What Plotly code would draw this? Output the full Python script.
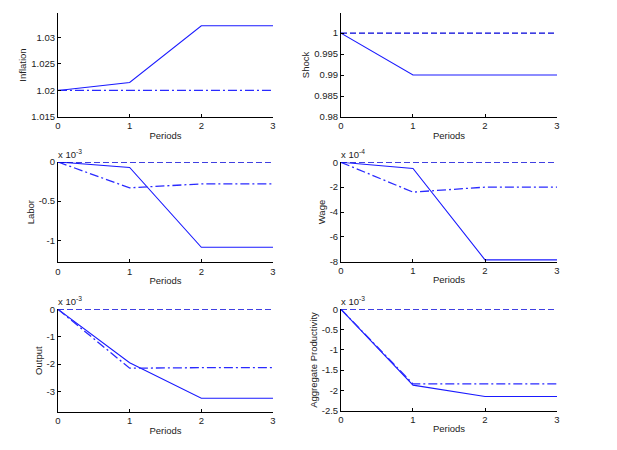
import plotly.graph_objects as go

# Data (impulse responses, periods 0..3)
periods = [0, 1, 2, 3]

inflation_solid = [1.02, 1.0215, 1.0322, 1.0322]
inflation_dashdot = [1.02, 1.02, 1.02, 1.02]

shock_solid = [1.0, 0.99, 0.99, 0.99]
shock_dashed = [1.0, 1.0, 1.0, 1.0]

labor_solid = [0, -0.07, -1.09, -1.09]        # x 1e-3
labor_dashdot = [0, -0.33, -0.28, -0.28]
labor_dashed = [0, 0, 0, 0]

wage_solid = [0, -0.5, -7.85, -7.85]          # x 1e-4
wage_dashdot = [0, -2.4, -2.0, -2.0]
wage_dashed = [0, 0, 0, 0]

output_solid = [0, -1.95, -3.25, -3.25]       # x 1e-3
output_dashdot = [0, -2.15, -2.13, -2.13]
output_dashed = [0, 0, 0, 0]

prod_solid = [0, -1.87, -2.15, -2.15]         # x 1e-3
prod_dashdot = [0, -1.84, -1.84, -1.84]
prod_dashed = [0, 0, 0, 0]

# page has an 8px body margin, so domains are shifted to compensate
panels = [
    # ylabel, series, yrange, yticks, ticktext, exponent, x domain, y domain
    ("Inflation", [("solid", inflation_solid), ("dashdot", inflation_dashdot)],
     [1.015, 1.0346], [1.015, 1.02, 1.025, 1.03], ["1.015", "1.02", "1.025", "1.03"], None,
     [0.081, 0.4295], [0.7578, 0.9889]),
    ("Shock", [("solid", shock_solid), ("dash", shock_dashed)],
     [0.98, 1.0048], [0.98, 0.985, 0.99, 0.995, 1.0], ["0.98", "0.985", "0.99", "0.995", "1"], None,
     [0.5397, 0.8898], [0.7578, 0.9889]),
    ("Labor", [("solid", labor_solid), ("dashdot", labor_dashdot), ("dash", labor_dashed)],
     [-1.282, 0], [-1, -0.5, 0], ["-1", "-0.5", "0"], "-3",
     [0.081, 0.4295], [0.4349, 0.6578]),
    ("Wage", [("solid", wage_solid), ("dashdot", wage_dashdot), ("dash", wage_dashed)],
     [-8, 0], [-8, -6, -4, -2, 0], ["-8", "-6", "-4", "-2", "0"], "-4",
     [0.5397, 0.8898], [0.4362, 0.6571]),
    ("Output", [("solid", output_solid), ("dashdot", output_dashdot), ("dash", output_dashed)],
     [-3.75, 0], [-3, -2, -1, 0], ["-3", "-2", "-1", "0"], "-3",
     [0.081, 0.4295], [0.1022, 0.3304]),
    ("Aggregate Productivity", [("solid", prod_solid), ("dashdot", prod_dashdot), ("dash", prod_dashed)],
     [-2.5, 0], [-2.5, -2, -1.5, -1, -0.5, 0], ["-2.5", "-2", "-1.5", "-1", "-0.5", "0"], "-3",
     [0.5397, 0.8898], [0.1051, 0.3304]),
]

dash_styles = {"solid": "solid", "dash": "6px,3px", "dashdot": "9px,3px,2px,3px"}
line_colors = {"solid": "#1a1aff", "dash": "#0000d8", "dashdot": "#2a2aff"}
line_widths = {"solid": 1.1, "dash": 1.4, "dashdot": 1.3}

font = dict(family="Liberation Sans, Arial, sans-serif", size=9.5, color="#222222")

fig = go.Figure()
layout = {}

for i, (ylabel, series, yrange, yticks, yticktext, expo, xdom, ydom) in enumerate(panels):
    n = "" if i == 0 else str(i + 1)
    for style, vals in series:
        fig.add_trace(go.Scatter(
            x=periods, y=vals, mode="lines",
            line=dict(color=line_colors[style], width=line_widths[style], dash=dash_styles[style]),
            xaxis="x" + n, yaxis="y" + n, showlegend=False, hoverinfo="skip",
        ))
    layout["xaxis" + n] = dict(
        domain=xdom, anchor="y" + n, range=[0, 3], tickvals=periods,
        showline=True, linecolor="black", linewidth=1, ticks="inside", ticklen=3,
        tickcolor="black", showgrid=False, zeroline=False, tickfont=font,
        automargin=False, title=dict(text="Periods", font=font, standoff=1),
    )
    layout["yaxis" + n] = dict(
        domain=ydom, anchor="x" + n, range=yrange, tickvals=yticks, ticktext=yticktext,
        showline=True, linecolor="black", linewidth=1, ticks="inside", ticklen=3,
        tickcolor="black", showgrid=False, zeroline=False, tickfont=font,
        automargin=False, title=dict(text=ylabel, font=font, standoff=2),
    )

annotations = []
for ylabel, series, yrange, yticks, yticktext, expo, xdom, ydom in panels:
    if expo:
        annotations.append(dict(
            text="x 10<sup>" + expo + "</sup>", xref="paper", yref="paper",
            x=xdom[0] - 0.003, y=ydom[1], xanchor="left", yanchor="bottom",
            showarrow=False, font=font,
        ))

fig.update_layout(
    width=617, height=450,
    margin=dict(l=0, r=0, t=0, b=0),
    paper_bgcolor="white", plot_bgcolor="white",
    annotations=annotations,
    **layout,
)

fig.write_html("out.html")
